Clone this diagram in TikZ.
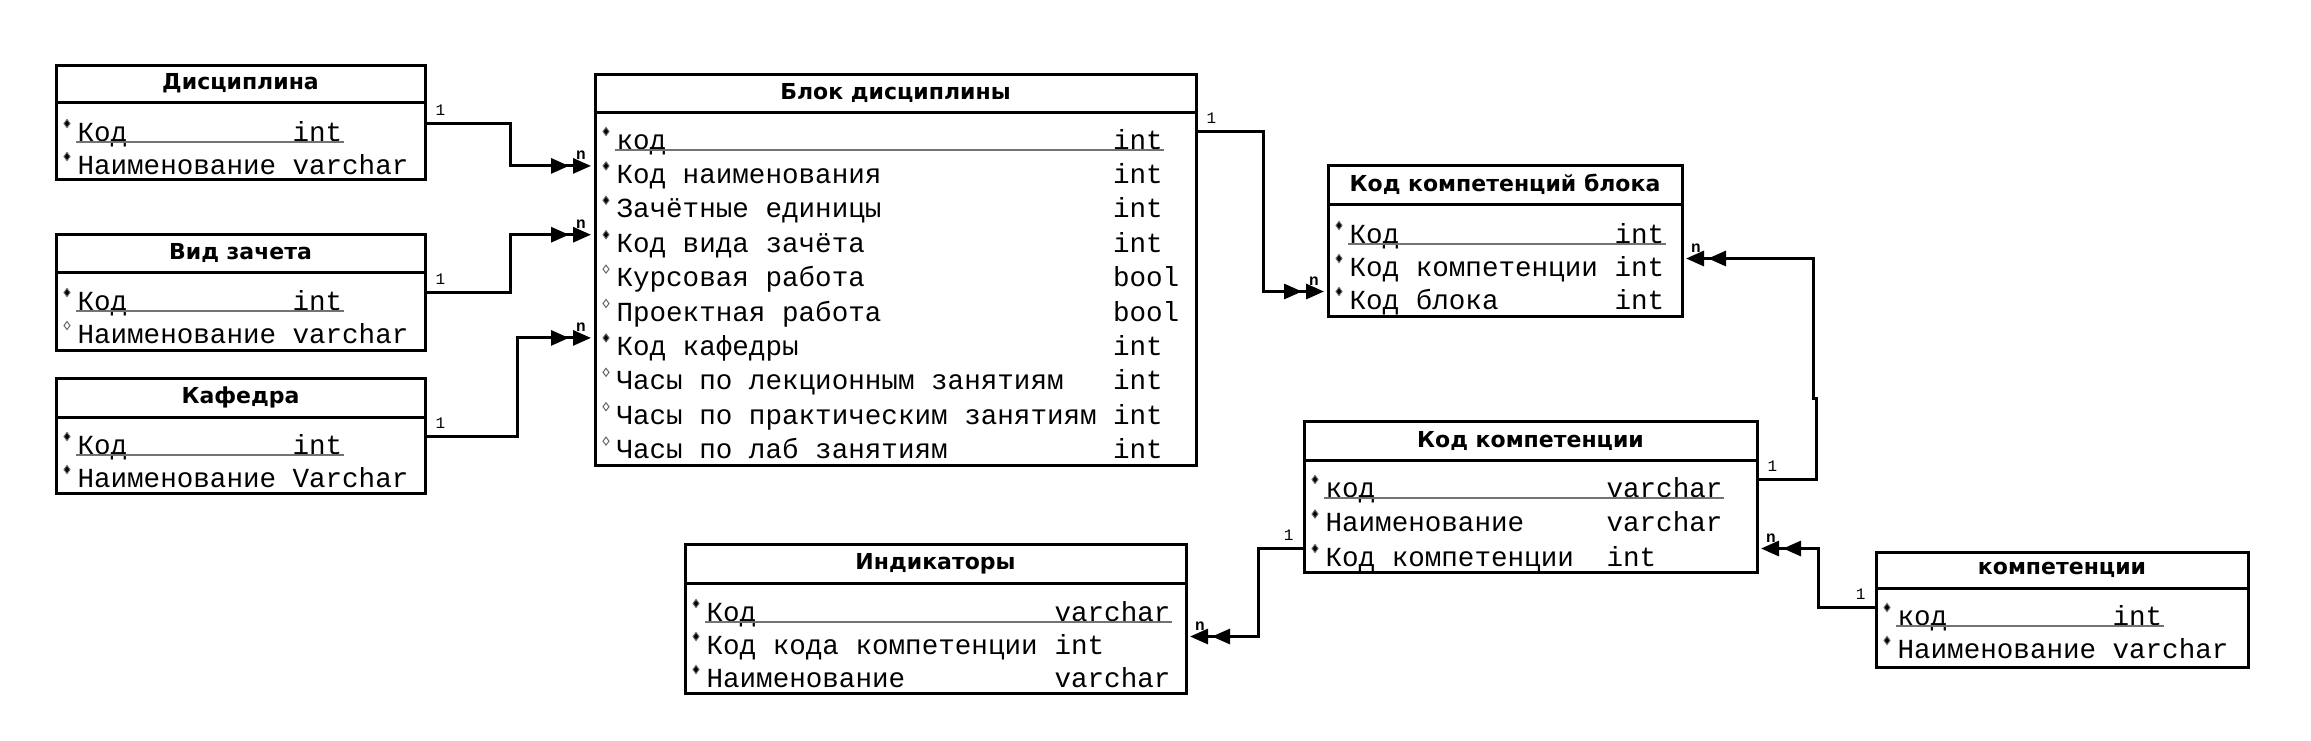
\documentclass[tikz,border=0pt]{standalone}
\usepackage{fontspec}
\setmonofont{Liberation Mono}
\newfontfamily\headfont{DejaVu Sans}
\usetikzlibrary{calc}
\usetikzlibrary{arrows.meta}
\colorlet{req}{black}
\colorlet{opt}{white}

\begin{document}
\begin{tikzpicture}[x=.5pt, y=-.5pt, line width=1.5pt,
  head/.style={draw, anchor=north west, inner sep=0, outer sep=0, font=\headfont\bfseries\fontsize{11pt}{12pt}\selectfont},
  body/.style={draw, anchor=north west, inner sep=0, outer sep=0},
  fld/.style={anchor=base west, inner sep=0, text height=8pt, text depth=2pt, font=\ttfamily\fontsize{13.8pt}{14pt}\selectfont},
  keyline/.style={draw=black!55, line width=1pt},
  link/.style={-{Triangle[length=9pt,width=7.5pt,sep=2pt]Triangle[length=9pt,width=7.5pt,sep=2pt]}},
  lab/.style={inner sep=0, font=\ttfamily\fontsize{8pt}{8pt}\selectfont},
  oner/.style={lab, anchor=base west, xshift=4.5pt, yshift=4pt},
  onel/.style={lab, anchor=base east, xshift=-4.5pt, yshift=4pt},
  nl/.style={lab, font=\ttfamily\bfseries\fontsize{8pt}{8pt}\selectfont, anchor=base, xshift=-7pt, yshift=3pt},
  nr/.style={lab, font=\ttfamily\bfseries\fontsize{8pt}{8pt}\selectfont, anchor=base, xshift=7pt, yshift=3pt},
]
\useasboundingbox (0,0) rectangle (2311,740);

% Дисциплина
\node[head, minimum width=184.5pt, minimum height=18.5pt] (disc) at (56,65) {Дисциплина};
\node[body, minimum width=184.5pt, minimum height=38.5pt] (disc-b) at (disc.south west) {};
\foreach \nm/\tp/\mk [count=\i] in {Код/int/req, Наименование/varchar/req}{
  \node[fld] (disc-\i) at (76,{141+33*(\i-1)}) {\nm};
  \node[fld] (disc-t\i) at (291,{141+33*(\i-1)}) {\tp};
  \path[fill=\mk, draw=black!60, line width=.5pt] (disc-\i.north west) ++(-9,0) +(0,-4) -- +(3,0) -- +(0,4) -- +(-3,0) -- cycle;
}
\draw[keyline] ([yshift=-.5pt]disc-1.base west) -- ([yshift=-.5pt]disc-t1.base east);

% Вид зачета
\node[head, minimum width=184.5pt, minimum height=19pt] (vid) at (56,234) {Вид зачета};
\node[body, minimum width=184.5pt, minimum height=39pt] (vid-b) at (vid.south west) {};
\foreach \nm/\tp/\mk [count=\i] in {Код/int/req, Наименование/varchar/opt}{
  \node[fld] (vid-\i) at (76,{310+33*(\i-1)}) {\nm};
  \node[fld] (vid-t\i) at (291,{310+33*(\i-1)}) {\tp};
  \path[fill=\mk, draw=black!60, line width=.5pt] (vid-\i.north west) ++(-9,0) +(0,-4) -- +(3,0) -- +(0,4) -- +(-3,0) -- cycle;
}
\draw[keyline] ([yshift=-.5pt]vid-1.base west) -- ([yshift=-.5pt]vid-t1.base east);

% Кафедра
\node[head, minimum width=184.5pt, minimum height=19.5pt] (kaf) at (56,378) {Кафедра};
\node[body, minimum width=184.5pt, minimum height=38pt] (kaf-b) at (kaf.south west) {};
\foreach \nm/\tp/\mk [count=\i] in {Код/int/req, Наименование/Varchar/req}{
  \node[fld] (kaf-\i) at (76,{454+33*(\i-1)}) {\nm};
  \node[fld] (kaf-t\i) at (291,{454+33*(\i-1)}) {\tp};
  \path[fill=\mk, draw=black!60, line width=.5pt] (kaf-\i.north west) ++(-9,0) +(0,-4) -- +(3,0) -- +(0,4) -- +(-3,0) -- cycle;
}
\draw[keyline] ([yshift=-.5pt]kaf-1.base west) -- ([yshift=-.5pt]kaf-t1.base east);

% Блок дисциплины
\node[head, minimum width=300.5pt, minimum height=19pt] (blk) at (595,74) {Блок дисциплины};
\node[body, minimum width=300.5pt, minimum height=176.5pt] (blk-b) at (blk.south west) {};
\foreach \nm/\tp/\mk [count=\i] in {код/int/req, Код наименования/int/req, Зачётные единицы/int/req,
    Код вида зачёта/int/req, Курсовая работа/bool/opt, Проектная работа/bool/opt, Код кафедры/int/req,
    Часы по лекционным занятиям/int/opt, Часы по практическим занятиям/int/opt, Часы по лаб занятиям/int/opt}{
  \node[fld] (blk-\i) at (615,{149+34.4*(\i-1)}) {\nm};
  \node[fld] (blk-t\i) at (1111.5,{149+34.4*(\i-1)}) {\tp};
  \path[fill=\mk, draw=black!60, line width=.5pt] (blk-\i.north west) ++(-9,0) +(0,-4) -- +(3,0) -- +(0,4) -- +(-3,0) -- cycle;
}
\draw[keyline] ([yshift=-.5pt]blk-1.base west) -- ([yshift=-.5pt]blk-t1.base east);

% Код компетенций блока
\node[head, minimum width=177pt, minimum height=19.5pt] (kkb) at (1328,165) {Код компетенций блока};
\node[body, minimum width=177pt, minimum height=56pt] (kkb-b) at (kkb.south west) {};
\foreach \nm/\tp/\mk [count=\i] in {Код/int/req, Код компетенции/int/req, Код блока/int/req}{
  \node[fld] (kkb-\i) at (1348,{243+33*(\i-1)}) {\nm};
  \node[fld] (kkb-t\i) at (1613,{243+33*(\i-1)}) {\tp};
  \path[fill=\mk, draw=black!60, line width=.5pt] (kkb-\i.north west) ++(-9,0) +(0,-4) -- +(3,0) -- +(0,4) -- +(-3,0) -- cycle;
}
\draw[keyline] ([yshift=-.5pt]kkb-1.base west) -- ([yshift=-.5pt]kkb-t1.base east);

% Код компетенции
\node[head, minimum width=226.5pt, minimum height=19.5pt] (kk) at (1304,421) {Код компетенции};
\node[body, minimum width=226.5pt, minimum height=56pt] (kk-b) at (kk.south west) {};
\foreach \nm/\tp/\mk [count=\i] in {код/varchar/req, Наименование/varchar/req, Код компетенции/int/req}{
  \node[fld] (kk-\i) at (1324,{497+34.5*(\i-1)}) {\nm};
  \node[fld] (kk-t\i) at (1605,{497+34.5*(\i-1)}) {\tp};
  \path[fill=\mk, draw=black!60, line width=.5pt] (kk-\i.north west) ++(-9,0) +(0,-4) -- +(3,0) -- +(0,4) -- +(-3,0) -- cycle;
}
\draw[keyline] ([yshift=-.5pt]kk-1.base west) -- ([yshift=-.5pt]kk-t1.base east);

% Индикаторы
\node[head, minimum width=250.5pt, minimum height=19.5pt] (ind) at (685,544) {Индикаторы};
\node[body, minimum width=250.5pt, minimum height=55pt] (ind-b) at (ind.south west) {};
\foreach \nm/\tp/\mk [count=\i] in {Код/varchar/req, Код кода компетенции/int/req, Наименование/varchar/req}{
  \node[fld] (ind-\i) at (705,{621+33*(\i-1)}) {\nm};
  \node[fld] (ind-t\i) at (1053,{621+33*(\i-1)}) {\tp};
  \path[fill=\mk, draw=black!60, line width=.5pt] (ind-\i.north west) ++(-9,0) +(0,-4) -- +(3,0) -- +(0,4) -- +(-3,0) -- cycle;
}
\draw[keyline] ([yshift=-.5pt]ind-1.base west) -- ([yshift=-.5pt]ind-t1.base east);

% компетенции
\node[head, minimum width=186pt, minimum height=18pt] (komp) at (1876,552) {компетенции};
\node[body, minimum width=186pt, minimum height=39.5pt] (komp-b) at (komp.south west) {};
\foreach \nm/\tp/\mk [count=\i] in {код/int/req, Наименование/varchar/req}{
  \node[fld] (komp-\i) at (1896,{625+33*(\i-1)}) {\nm};
  \node[fld] (komp-t\i) at (2111,{625+33*(\i-1)}) {\tp};
  \path[fill=\mk, draw=black!60, line width=.5pt] (komp-\i.north west) ++(-9,0) +(0,-4) -- +(3,0) -- +(0,4) -- +(-3,0) -- cycle;
}
\draw[keyline] ([yshift=-.5pt]komp-1.base west) -- ([yshift=-.5pt]komp-t1.base east);

% связи
\draw[link] (disc-1.north -| disc.east) node[oner] (o1) {1} -- ++(85,0) |- (blk-2.north -| blk.west) node[nl] (n1) {n};
\draw[link] (vid-1.north -| vid.east) node[oner] (o2) {1} -- ++(85,0) |- (blk-4.north -| blk.west) node[nl] (n2) {n};
\draw[link] (kaf-1.north -| kaf.east) node[oner] (o3) {1} -- ++(92,0) |- (blk-7.north -| blk.west) node[nl] (n3) {n};
\draw[link] (blk-1.north -| blk.east) node[oner] (o4) {1} -- ++(67,0) |- (kkb-3.north -| kkb.west) node[nl] (n4) {n};
\draw[link] (kk-1.north -| kk.east) node[oner] (o5) {1} -- ++(59,0) -- ++(0,-81) -- ++(-3,0) |- (kkb-2.north -| kkb.east) node[nr] (n5) {n};
\draw[link] (komp-1.north -| komp.west) node[onel] (o6) {1} -- ++(-58,0) |- (kk-3.north -| kk.east) node[nr] (n6) {n};
\draw[link] (kk-3.north -| kk.west) node[onel] (o7) {1} -- ++(-46,0) |- (ind-2.north -| ind.east) node[nr] (n7) {n};
\end{tikzpicture}
\end{document}
